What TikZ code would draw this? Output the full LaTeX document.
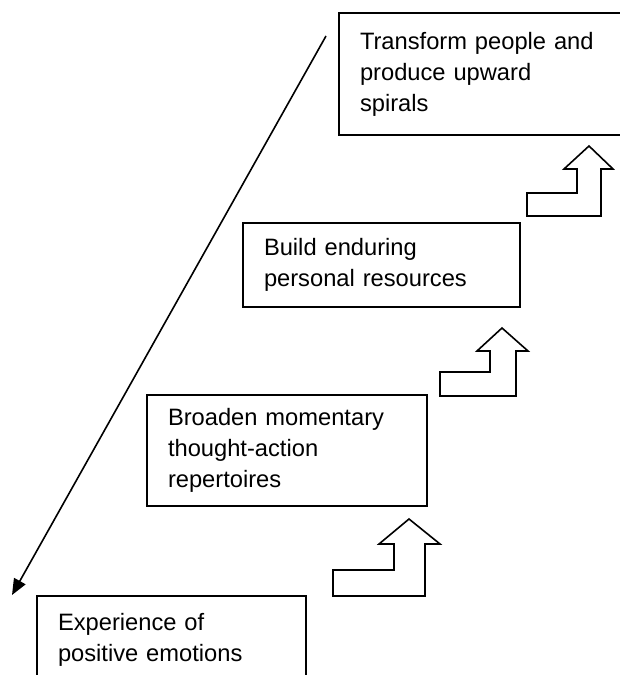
\documentclass[tikz,border=0pt]{standalone}
\usepackage{fontspec}
\setmainfont{Liberation Sans}
\usetikzlibrary{arrows.meta}
\begin{document}
\begin{tikzpicture}[x=1pt,y=1pt,
  stagebox/.style={draw=black, line width=1.5pt, rectangle, align=left,
    inner xsep=21pt, inner ysep=0pt, font=\fontsize{23.7}{31}\selectfont},
  bentarrow/.style={draw=black, line width=1.6pt, fill=white, line join=miter}]
\useasboundingbox (0,0) rectangle (620,675);
\clip (0,0) rectangle (620,675);
% stage boxes
\node[stagebox, text width=244pt, minimum height=122pt] (s4) at (482,601)
  {Transform people and\\produce upward\\spirals};
\node[stagebox, text width=235pt, minimum height=84pt] (s3) at (381.5,410)
  {Build enduring\\personal resources};
\node[stagebox, text width=238pt, minimum height=111pt] (s2) at (287,224.5)
  {Broaden momentary\\thought-action\\repertoires};
\node[stagebox, text width=227pt, minimum height=88pt] (s1) at (171.5,35)
  {Experience of\\positive emotions};
% bent outline arrows
\draw[bentarrow] (333,105) -- (394,105) -- (394,131) -- (379,131) -- (409,156)
  -- (440,131) -- (425,131) -- (425,79) -- (333,79) -- cycle;
\draw[bentarrow] (440,303) -- (490,303) -- (490,324) -- (477,324) -- (502,347)
  -- (528,324) -- (516,324) -- (516,279) -- (440,279) -- cycle;
\draw[bentarrow] (527,482) -- (577,482) -- (577,506) -- (564,506) -- (589,529)
  -- (613,506) -- (601,506) -- (601,459) -- (527,459) -- cycle;
% long diagonal arrow
\coordinate (astart) at (326,639);
\coordinate (aend) at (12,80);
\draw[line width=1.6pt, -{Triangle[length=16pt,width=13pt]}] (astart) -- (aend);
\end{tikzpicture}
\end{document}
